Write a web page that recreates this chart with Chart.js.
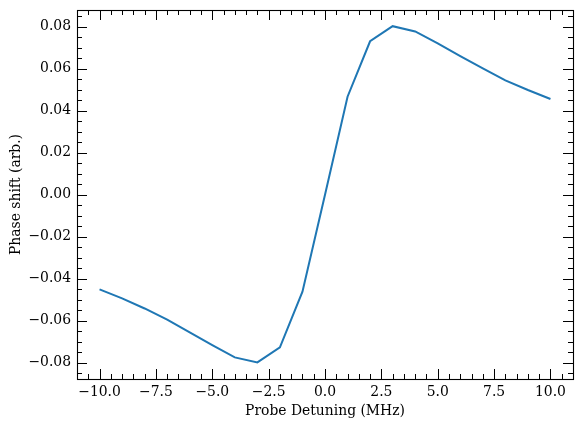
<!DOCTYPE html>
<html>
<head>
<meta charset="utf-8">
<script src="https://cdn.jsdelivr.net/npm/chart.js@4"></script>
<style>
  html, body { margin: 0; padding: 0; background: #fff; }
  #wrap { width: 582px; height: 428px; }
</style>
</head>
<body>
<div id="wrap"><canvas id="myChart" width="582" height="428"></canvas></div>
<script>
// Data
const detuning = [-10, -9, -8, -7, -6, -5, -4, -3, -2, -1, 0, 1, 2, 3, 4, 5, 6, 7, 8, 9, 10]; // MHz
const phaseShift = [-0.0451, -0.0494, -0.0542, -0.0595, -0.0656, -0.0717, -0.0775, -0.0799, -0.0727, -0.0462,
  0.0000, 0.0467, 0.0731, 0.0803, 0.0778, 0.0721, 0.0660, 0.0602, 0.0545, 0.0499, 0.0456];

// Axis ticks
const xTicks = [-10, -7.5, -5, -2.5, 0, 2.5, 5, 7.5, 10];
const yTicks = [-0.08, -0.06, -0.04, -0.02, 0, 0.02, 0.04, 0.06, 0.08];
const xMinorStep = 0.5;
const yMinorStep = 0.005;

const font = 'DejaVu Serif';

function fmt(v, digits) {
  const s = Math.abs(v).toFixed(digits);
  return (v < -1e-12 ? '\u2212' : '') + s;
}

// draws frame + inward major/minor ticks on all four sides
const frameTicks = {
  id: 'frameTicks',
  afterDraw(chart) {
    const ctx = chart.ctx;
    const a = chart.chartArea;
    const xs = chart.scales.x, ys = chart.scales.y;
    const major = 10, minor = 5;
    ctx.save();
    ctx.strokeStyle = '#000';
    ctx.lineWidth = 1;
    ctx.beginPath();
    const tickX = (v, len) => {
      const px = Math.round(xs.getPixelForValue(v)) + 0.5;
      ctx.moveTo(px, a.bottom); ctx.lineTo(px, a.bottom - len);
      ctx.moveTo(px, a.top); ctx.lineTo(px, a.top + len);
    };
    const tickY = (v, len) => {
      const py = Math.round(ys.getPixelForValue(v)) + 0.5;
      ctx.moveTo(a.left, py); ctx.lineTo(a.left + len, py);
      ctx.moveTo(a.right, py); ctx.lineTo(a.right - len, py);
    };
    for (let i = Math.ceil(xs.min / xMinorStep); i * xMinorStep < xs.max; i++) {
      const v = i * xMinorStep;
      if (v <= xs.min) continue;
      const isMajor = xTicks.some(t => Math.abs(t - v) < 1e-9);
      tickX(v, isMajor ? major : minor);
    }
    for (let i = Math.ceil(ys.min / yMinorStep); i * yMinorStep < ys.max; i++) {
      const v = i * yMinorStep;
      if (v <= ys.min) continue;
      const isMajor = yTicks.some(t => Math.abs(t - v) < 1e-9);
      tickY(v, isMajor ? major : minor);
    }
    ctx.stroke();
    ctx.lineWidth = 1.1;
    ctx.strokeRect(Math.round(a.left) + 0.5, Math.round(a.top) + 0.5,
      Math.round(a.right - a.left), Math.round(a.bottom - a.top));
    ctx.restore();
  }
};

const config = {
  type: 'line',
  data: {
    datasets: [{
      label: 'Phase shift',
      data: detuning.map((d, i) => ({ x: d, y: phaseShift[i] })),
      borderColor: '#1f77b4',
      borderWidth: 2,
      pointRadius: 0,
      tension: 0,
      fill: false
    }]
  },
  options: {
    responsive: false,
    animation: false,
    layout: { padding: { top: 10, right: 9, left: 0, bottom: 0 } },
    plugins: {
      legend: { display: false },
      tooltip: { enabled: false }
    },
    scales: {
      x: {
        type: 'linear',
        min: -11,
        max: 11,
        grid: { display: false, drawTicks: false },
        border: { display: false },
        afterBuildTicks: s => { s.ticks = xTicks.map(v => ({ value: v })); },
        afterFit: s => { s.height = 49; s.paddingLeft = 0; s.paddingRight = 0; },
        ticks: {
          padding: 5,
          maxRotation: 0,
          autoSkip: false,
          color: '#000',
          font: { family: font, size: 13.9 },
          callback: v => fmt(v, 1)
        },
        title: {
          display: true,
          text: 'Probe Detuning (MHz)',
          color: '#000',
          font: { family: font, size: 13.9 },
          padding: { top: 0, bottom: 8 }
        }
      },
      y: {
        type: 'linear',
        min: -0.0878,
        max: 0.0880,
        grid: { display: false, drawTicks: false },
        border: { display: false },
        afterBuildTicks: s => { s.ticks = yTicks.map(v => ({ value: v })); },
        afterFit: s => { s.width = 77; s.paddingTop = 0; s.paddingBottom = 0; },
        ticks: {
          padding: 6,
          autoSkip: false,
          color: '#000',
          font: { family: font, size: 13.9 },
          callback: v => fmt(v, 2)
        },
        title: {
          display: true,
          text: 'Phase shift (arb.)',
          color: '#000',
          font: { family: font, size: 13.9 },
          padding: { top: 8, bottom: 0 }
        }
      }
    }
  },
  plugins: [frameTicks]
};

var myChart = new Chart(document.getElementById('myChart'), config);
</script>
</body>
</html>
